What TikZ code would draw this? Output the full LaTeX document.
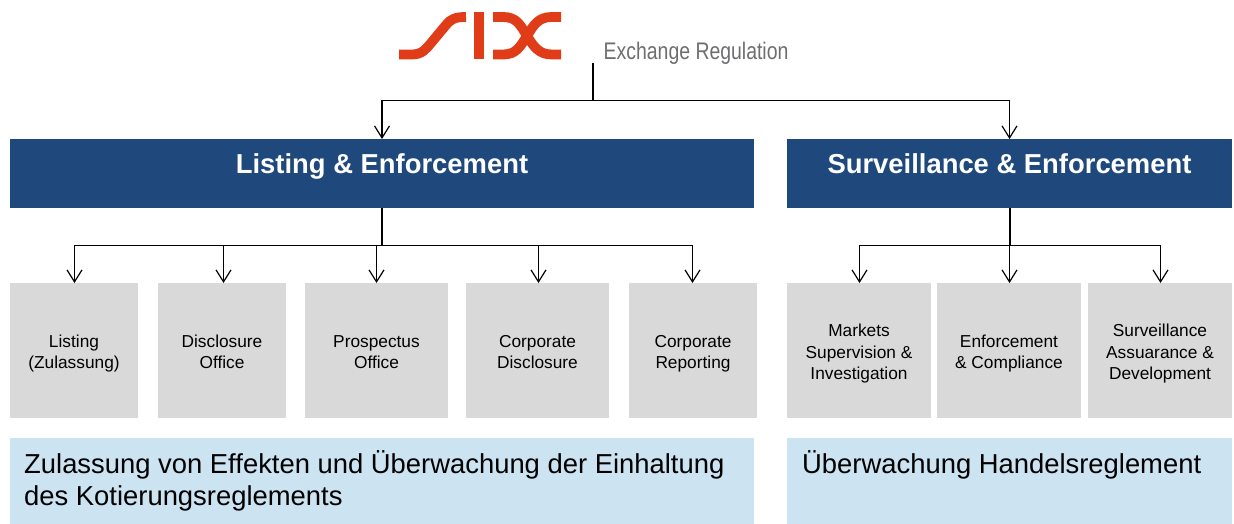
\documentclass[tikz,border=0pt]{standalone}
\usepackage{fontspec}
\setmainfont{Liberation Sans}
\usetikzlibrary{arrows.meta}
\definecolor{sixblue}{HTML}{1F497D}
\definecolor{sixgray}{HTML}{D9D9D9}
\definecolor{sixlight}{HTML}{CCE3F2}
\definecolor{sixred}{HTML}{E03C18}
\definecolor{sixtext}{HTML}{6D6E70}
\tikzset{
  boxbase/.style={anchor=north west,inner sep=0pt,outer sep=0pt,text centered},
  head/.style={boxbase,fill=sixblue,text=white,font=\fontsize{27.4}{32}\selectfont\bfseries,minimum height=69pt},
  unit/.style={boxbase,fill=sixgray,text=black,font=\fontsize{17.3}{21.3}\selectfont,minimum height=135pt},
  remit/.style={boxbase,fill=sixlight,text=black,minimum height=86pt},
  remittext/.style={anchor=north west,inner sep=0pt,align=left,text=black,font=\fontsize{27.4}{32}\selectfont},
  link/.style={draw=black,line width=1.3pt},
  trunk/.style={draw=black,line width=2pt},
  linkarrow/.style={link,-{Straight Barb[length=12pt,width=15pt,line width=1.2pt]}},
  logo/.style={draw=sixred,line width=9.8pt},
}
\newcommand{\lift}[1]{\raisebox{19.5pt}{#1}}
\newcommand{\stack}[1]{\vbox{\vskip 7pt\hbox{\begin{tabular}{@{}c@{}}#1\end{tabular}}}}
\begin{document}
\begin{tikzpicture}[x=1pt,y=-1pt]
\useasboundingbox (0,0) rectangle (1234,524);
% logo
\draw[logo] (399,54.5) -- (412,54.5) .. controls (422,54.5) and (426,49) .. (431,43) -- (446,25) .. controls (451,19) and (455,17) .. (466,17);
\fill[sixred] (474,12) rectangle (484,59);
\draw[logo] (493,17) -- (503,17) .. controls (516,17) and (520,24) .. (527,36) .. controls (534,47) and (539,54.5) .. (552,54.5) -- (561,54.5);
\draw[logo] (493,54.5) -- (503,54.5) .. controls (516,54.5) and (520,47) .. (527,36) .. controls (534,24) and (539,17) .. (552,17) -- (561,17);
\node[anchor=west,inner sep=0pt,text=sixtext,font=\fontsize{24}{26}\selectfont,xscale=0.81] (er) at (603.5,53) {Exchange Regulation};
\coordinate (root) at (593,63);
\coordinate (fork) at (593,100.5);
% heads
\node[head,minimum width=744pt] (le) at (10,139) {\lift{Listing \& Enforcement}};
\node[head,minimum width=445pt] (se) at (787,139) {\lift{Surveillance \& Enforcement}};
% units
\node[unit,minimum width=128pt] (u1) at (10,283) {\stack{Listing\\(Zulassung)}};
\node[unit,minimum width=128pt] (u2) at (158,283) {\stack{Disclosure\\Office}};
\node[unit,minimum width=143pt] (u3) at (305,283) {\stack{Prospectus\\Office}};
\node[unit,minimum width=143pt] (u4) at (466,283) {\stack{Corporate\\Disclosure}};
\node[unit,minimum width=128pt] (u5) at (629,283) {\stack{Corporate\\Reporting}};
\node[unit,minimum width=144pt] (v1) at (787,283) {\stack{Markets\\Supervision \&\\Investigation}};
\node[unit,minimum width=144pt] (v2) at (937,283) {\stack{Enforcement\\\& Compliance}};
\node[unit,minimum width=144pt] (v3) at (1088,283) {\stack{Surveillance\\Assuarance \&\\Development}};
% remits
\node[remit,minimum width=744pt] (r1) at (10,438) {};
\node[remit,minimum width=445pt] (r2) at (787,438) {};
\node[remittext] (t1) at (24,450) {Zulassung von Effekten und Überwachung der Einhaltung\\des Kotierungsreglements};
\node[remittext] (t2) at (802,450) {Überwachung Handelsreglement};
% connectors
\coordinate (lefork) at (382,245.5);
\coordinate (sefork) at (1009.5,245.5);
\draw[link] (root) -- (fork);
\draw[linkarrow] (fork) -| (lefork |- le.north);
\draw[linkarrow] (fork) -| (sefork |- se.north);
\draw[trunk] (lefork |- le.south) -- (lefork);
\draw[trunk] (sefork |- se.south) -- (sefork);
\draw[linkarrow] (lefork) -| (74.5,283) coordinate (a1);
\draw[linkarrow] (lefork) -| (223.5,283) coordinate (a2);
\draw[linkarrow] (lefork) -| (376.5,283) coordinate (a3);
\draw[linkarrow] (lefork) -| (538.5,283) coordinate (a4);
\draw[linkarrow] (lefork) -| (692.5,283) coordinate (a5);
\draw[linkarrow] (sefork) -| (859.5,283) coordinate (b1);
\draw[linkarrow] (sefork) -- (sefork |- v2.north);
\draw[linkarrow] (sefork) -| (1160.5,283) coordinate (b3);
\end{tikzpicture}
\end{document}
